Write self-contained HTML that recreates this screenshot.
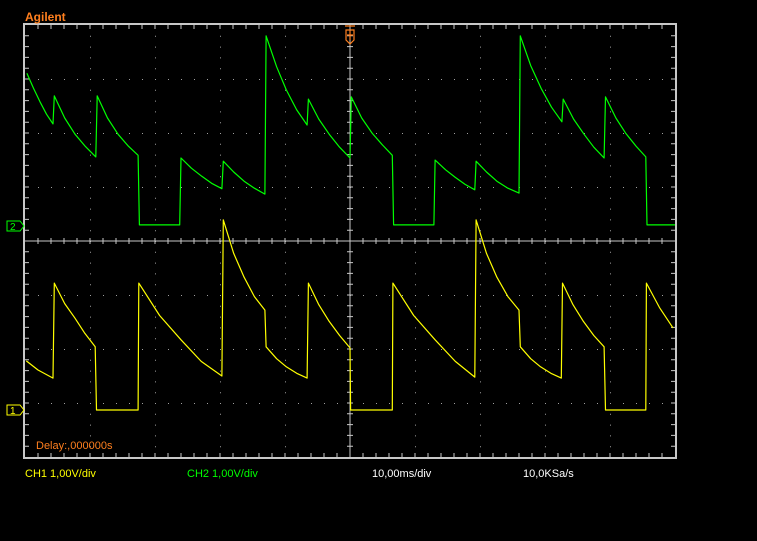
<!DOCTYPE html>
<html><head><meta charset="utf-8"><style>
html,body{margin:0;padding:0;background:#000;}
svg{display:block;font-family:"Liberation Sans",sans-serif;}
</style></head><body>
<svg id="scope" width="757" height="541" viewBox="0 0 757 541" xmlns="http://www.w3.org/2000/svg">
<rect width="757" height="541" fill="#000"/>
<g id="grid"></g>
<g id="traces"></g>
<text x="25" y="21" fill="#ff7f1e" font-size="12" font-weight="bold">Agilent</text>
<text x="36" y="449" fill="#ff7f1e" font-size="11">Delay:,000000s</text>
<text x="25" y="477" fill="#ffff00" font-size="11">CH1 1,00V/div</text>
<text x="187" y="477" fill="#00ff00" font-size="11">CH2 1,00V/div</text>
<text x="372" y="477" fill="#ffffff" font-size="11">10,00ms/div</text>
<text x="523" y="477" fill="#ffffff" font-size="11">10,0KSa/s</text>
<g>
<path d="M7,221 H20 L24,226 L20,231 H7 Z" fill="none" stroke="#00ff00" stroke-width="1"/>
<text x="10" y="230" fill="#00ff00" font-size="10">2</text></g>
<g>
<path d="M7,405 H20 L24,410 L20,415 H7 Z" fill="none" stroke="#ffff00" stroke-width="1"/>
<text x="10" y="414" fill="#ffff00" font-size="10">1</text></g>
<g>
<path d="M345,26 H355 M346,30 H354 V40 L350,44 L346,40 Z M347,35 H353 M350,31 V40" fill="none" stroke="#ff7f1e" stroke-width="1.2"/></g>
</svg>
<script>
const ch1Times=[0.2,2,4.3,4.5,6.1,7.7,9.2,10.8,11,17.4,17.5,20.7,24,27.1,30.3,30.5,32.1,33.7,35.3,36.9,37.1,38.7,40.2,41.8,43.4,43.6,45.2,46.8,48.4,50,50.1,56.5,56.6,59.8,63.1,66.2,69.2,69.4,71,72.6,74.3,76,76.2,77.8,79.3,80.9,82.5,82.7,84.3,85.9,87.5,89.1,89.3,95.5,95.6,97.6,99.7];
const ch1Volts=[0.91,0.74,0.59,2.35,1.97,1.7,1.42,1.17,0,0,2.35,1.75,1.3,0.9,0.63,3.52,2.9,2.46,2.1,1.85,1.17,0.95,0.8,0.68,0.59,2.35,1.95,1.64,1.38,1.15,0,0,2.35,1.75,1.3,0.9,0.61,3.52,2.9,2.46,2.1,1.85,1.17,0.95,0.8,0.68,0.59,2.35,1.95,1.64,1.38,1.17,0,0,2.35,1.9,1.52];
const ch2Times=[0.3,1.3,2.3,3.3,4.3,4.5,6.1,7.7,9.3,10.9,11.1,12.7,14.3,15.9,17.4,17.6,23.8,24,25.6,27.2,28.7,30.3,30.5,32.1,33.7,35.3,36.9,37.1,38.7,40.2,41.8,43.4,43.6,45.2,46.8,48.4,50,50.2,51.8,53.4,55,56.5,56.7,62.9,63.1,64.7,66.2,67.7,69.2,69.4,71,72.6,74.3,76,76.2,77.8,79.4,81,82.6,82.8,84.4,86,87.5,89.1,89.3,90.9,92.4,94,95.5,95.7,100];
const ch2Volts=[2.83,2.55,2.3,2.07,1.89,2.41,2.0,1.7,1.47,1.28,2.41,2.0,1.7,1.48,1.31,0.02,0.02,1.26,1.07,0.92,0.79,0.69,1.2,1.0,0.83,0.7,0.59,3.52,2.95,2.52,2.15,1.87,2.35,1.98,1.7,1.46,1.26,2.39,2.0,1.72,1.5,1.31,0.02,0.02,1.22,1.04,0.9,0.77,0.67,1.2,1.0,0.83,0.7,0.61,3.52,2.97,2.55,2.2,1.93,2.35,1.98,1.7,1.46,1.26,2.39,2.0,1.72,1.48,1.28,0.02,0.02];
const L=25,R=675,T=25,B=457,XDIV=65,YDIV=54;
const ch1Ground=410,ch2Ground=226;
function xs(t){return L+t*XDIV/10;}
function y1(v){return ch1Ground-v*YDIV;}
function y2(v){return ch2Ground-v*YDIV;}
const NS="http://www.w3.org/2000/svg";
const grid=document.getElementById('grid');
function mk(tag,attrs,parent){const e=document.createElementNS(NS,tag);for(const k in attrs)e.setAttribute(k,attrs[k]);parent.appendChild(e);return e;}
let dots="";
for(let i=1;i<10;i++){if(i===5)continue;const x=L+i*XDIV;for(let j=1;j<40;j++){dots+=`M${x},${T+j*YDIV/5}h1v1h-1z`;}}
for(let j=1;j<8;j++){if(j===4)continue;const y=T+j*YDIV;for(let i=1;i<50;i++){dots+=`M${L+i*XDIV/5},${y}h1v1h-1z`;}}
const d=mk('path',{d:dots,fill:'#a0a0a0'},grid);


const cx=L+5*XDIV,cy=T+4*YDIV;
let ax=`M${L},${cy}H${R}M${cx},${T}V${B}`;
for(let i=1;i<50;i++){const x=L+i*XDIV/5;ax+=`M${x},${cy-3}V${cy+3}M${x},${T}V${T+4}M${x},${B-4}V${B}`;}
for(let j=1;j<40;j++){const y=T+j*YDIV/5;ax+=`M${cx-3},${y}H${cx+3}M${L},${y}H${L+4}M${R-4},${y}H${R}`;}
const a=mk('path',{d:ax,stroke:'#c8c8c8','stroke-width':1,fill:'none'},grid);


const f=mk('rect',{x:L-1,y:T-1,width:R-L+2,height:B-T+2,fill:'none',stroke:'#c8c8c8','stroke-width':2},grid);


const tr=document.getElementById('traces');
function trace(ts,vs,yf,color,name){let p="";for(let i=0;i<ts.length;i++)p+=(i?"L":"M")+xs(ts[i]).toFixed(1)+","+yf(vs[i]).toFixed(1);
const e=mk('path',{d:p,stroke:color,'stroke-width':1.2,fill:'none','stroke-linejoin':'round'},tr);

}
trace(ch2Times,ch2Volts,y2,'#00ff00','ch2-trace');
trace(ch1Times,ch1Volts,y1,'#ffff00','ch1-trace');
</script>
</body></html>
